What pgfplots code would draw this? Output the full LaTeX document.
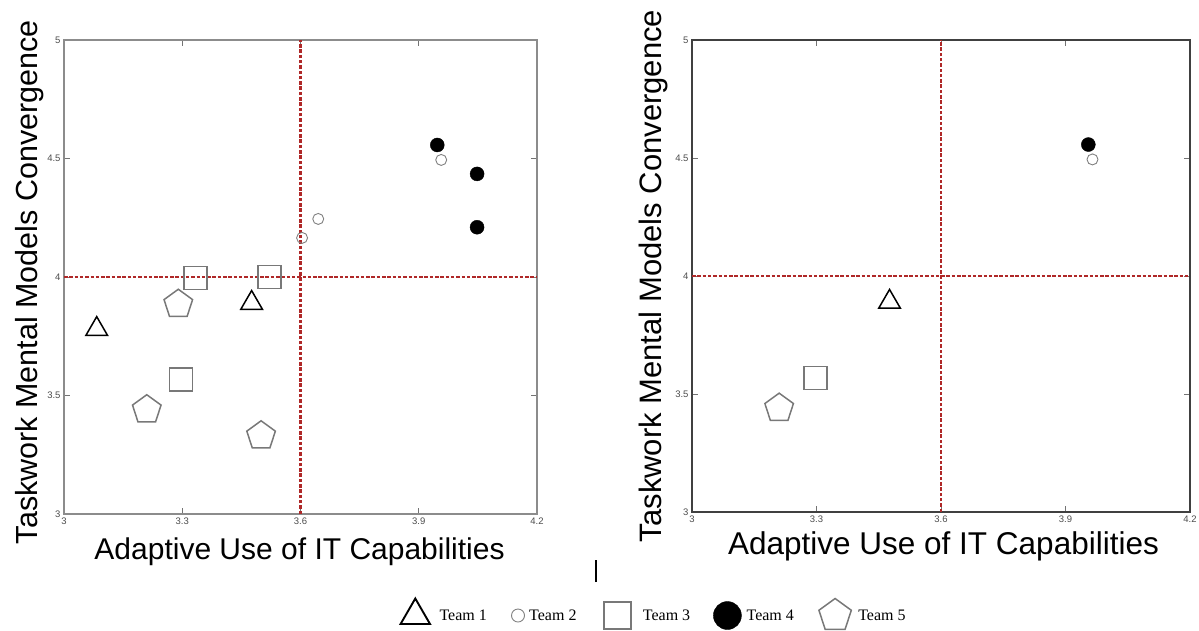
\documentclass[border=0pt]{standalone}
\usepackage{pgfplots}
\pgfplotsset{compat=1.18}
\usepackage{fontspec}
\setmainfont{Liberation Sans}
\newfontfamily\legfont{Liberation Serif}
\definecolor{refline}{RGB}{175,40,40}
\definecolor{mkgray}{RGB}{120,120,120}

\pgfplotsset{
  quad/.style={scale only axis, xmin=3, xmax=4.2, ymin=3, ymax=5,
    xtick={3,3.3,3.6,3.9,4.2}, ytick={3,3.5,4,4.5,5},
    tick align=inside, major tick length=6pt,
    /pgf/number format/assume math mode=true,
    ticklabel style={font=\fontsize{9.5}{9.5}\selectfont, text=black!70},
    tick style={black!55, line width=0.8pt},
    xlabel={Adaptive Use of IT Capabilities},
    ylabel={Taskwork Mental Models Convergence},
  },
  refl/.style={refline, line width=2.2pt, dash pattern=on 3.5pt off 1.8pt, forget plot},
  t1/.style={only marks, mark=triangle, mark size=12.5pt, mark options={black, line width=1.5pt},
    legend image code/.code={\path (-16pt,0pt) (22pt,0pt); \draw[##1, mark size=17pt, mark options={line width=1.9pt}] plot coordinates {(0pt,0pt)};}},
  t2/.style={only marks, mark=o, mark size=5.5pt, mark options={black!50, line width=0.9pt},
    legend image code/.code={\path (-9pt,0pt) (9pt,0pt); \draw[##1, mark size=6.5pt] plot coordinates {(0pt,0pt)};}},
  t3/.style={only marks, mark=square, mark size=11.5pt, mark options={mkgray, line width=1.5pt},
    legend image code/.code={\path (-19pt,0pt) (23pt,0pt); \draw[##1, mark size=13.5pt] plot coordinates {(0pt,0pt)};}},
  t4/.style={only marks, mark=*, mark size=7pt, mark options={black, fill=black},
    legend image code/.code={\path (-15pt,0pt) (17pt,0pt); \draw[##1, mark size=14pt] plot coordinates {(0pt,0pt)};}},
  t5/.style={only marks, mark=pentagon, mark size=15pt, mark options={mkgray, line width=1.5pt},
    legend image code/.code={\path (-19pt,0pt) (21pt,0pt); \draw[##1, mark size=17pt] plot coordinates {(0pt,0pt)};}},
}

\begin{document}
\begin{tikzpicture}
\path[use as bounding box] (0pt,0pt) rectangle (1199pt,630pt);

% Left panel
\begin{axis}[quad,
  at={(64pt,116pt)}, anchor=south west, width=473pt, height=474pt,
  axis line style={black!45, line width=1.5pt},
  xlabel style={at={(axis description cs:0.498,-0.095)}, anchor=base, font=\fontsize{30}{30}\selectfont},
  ylabel style={at={(axis description cs:-0.057,0.489)}, anchor=base, font=\fontsize{30.5}{30.5}\selectfont},
  legend columns=5,
  legend style={draw=none, fill=none, at={(axis description cs:1.246,-0.211)}, anchor=center,
    font=\legfont\fontsize{16}{16}\selectfont,
    /tikz/every even column/.append style={column sep=20pt}},
]
\addplot[refl] coordinates {(3.6,3) (3.6,5)};
\addplot[refl] coordinates {(3,4) (4.2,4)};
\addplot[t1] coordinates {(3.083,3.78) (3.476,3.89)};
\addlegendentry{Team 1}
\addplot[t2] coordinates {(3.957,4.494) (3.604,4.165) (3.645,4.245)};
\addlegendentry{Team 2}
\addplot[t3] coordinates {(3.334,3.995) (3.521,4.0) (3.297,3.568)};
\addlegendentry{Team 3}
\addplot[t4] coordinates {(3.947,4.557) (4.048,4.435) (4.048,4.21)};
\addlegendentry{Team 4}
\addplot[t5] coordinates {(3.29,3.885) (3.21,3.44) (3.50,3.33)};
\addlegendentry{Team 5}
\end{axis}

% Right panel
\begin{axis}[quad,
  at={(692pt,118pt)}, anchor=south west, width=498pt, height=472pt,
  axis line style={black!75, line width=2pt},
  xlabel style={at={(axis description cs:0.505,-0.091)}, anchor=base, font=\fontsize{31.5}{31.5}\selectfont},
  ylabel style={at={(axis description cs:-0.062,0.5)}, anchor=base, font=\fontsize{31}{31}\selectfont},
]
\addplot[refl] coordinates {(3.6,3) (3.6,5)};
\addplot[refl] coordinates {(3,4) (4.2,4)};
\addplot[t1] coordinates {(3.476,3.89)};
\addplot[t2] coordinates {(3.965,4.494)};
\addplot[t3] coordinates {(3.297,3.568)};
\addplot[t4] coordinates {(3.955,4.557)};
\addplot[t5] coordinates {(3.21,3.44)};
\end{axis}

\draw[line width=2pt] (596pt,48pt) -- (596pt,70pt);
\end{tikzpicture}
\end{document}
